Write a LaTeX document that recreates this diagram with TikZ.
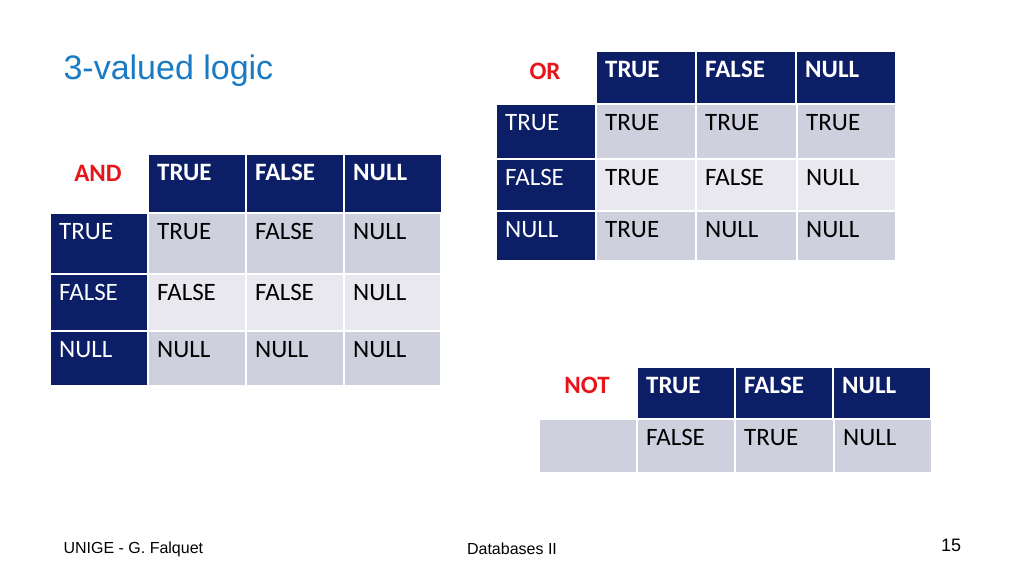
\documentclass[tikz,border=0pt]{standalone}
\usepackage{fontspec}
\setmainfont{Carlito}
\newfontfamily\arialfont{Liberation Sans}
\definecolor{navy}{HTML}{0B1E66}
\definecolor{lavA}{HTML}{CFD0DD}
\definecolor{lavB}{HTML}{E8E8EE}
\definecolor{titleblue}{HTML}{1A7BC4}
\definecolor{opred}{HTML}{E8141B}
\tikzset{
  cellbox/.style={draw=white, line width=2pt, anchor=north west, inner sep=0pt},
  celltext/.style={anchor=north west, inner sep=0pt, font=\fontsize{25}{28}\selectfont},
  headtext/.style={celltext, text=white, font=\fontsize{25}{28}\selectfont\bfseries},
  optext/.style={celltext, text=opred, font=\fontsize{25}{28}\selectfont\bfseries},
}
% one cell: name, x, y, width, height, fill, text style, text
\newcommand{\cellat}[8]{%
  \node[cellbox, fill=#6, minimum width=#4, minimum height=#5] (#1) at (#2,#3) {};
  \node[#7] (#1-t) at ([xshift=10,yshift=-11]#1.north west) {#8};}
\begin{document}
\begin{tikzpicture}[x=1pt,y=1pt]
\useasboundingbox[fill=white] (0,0) rectangle (1024,-576);
\node[anchor=west, text=titleblue, font=\arialfont\fontsize{34}{38}\selectfont] (title) at (60,-71) {3-valued logic};

% AND table
\node[optext, anchor=center] (and-op) at (98,-173) {AND};
\foreach \c/\t [count=\i] in {1/TRUE,2/FALSE,3/NULL}
  \cellat{and-h\i}{49+98*\c}{-153}{98}{59}{navy}{headtext}{\t};
\foreach \r/\y/\h/\f/\lab in {1/-212/61/lavA/TRUE,2/-273/57/lavB/FALSE,3/-330/55/lavA/NULL}
  \cellat{and-l\r}{49}{\y}{98}{\h}{navy}{headtext,font=\fontsize{25}{28}\selectfont}{\lab};
\foreach \r/\y/\h/\f/\a/\b/\cc in {1/-212/61/lavA/TRUE/FALSE/NULL,2/-273/57/lavB/FALSE/FALSE/NULL,3/-330/55/lavA/NULL/NULL/NULL}{
  \cellat{and-\r-1}{147}{\y}{98}{\h}{\f}{celltext}{\a}
  \cellat{and-\r-2}{245}{\y}{98}{\h}{\f}{celltext}{\b}
  \cellat{and-\r-3}{343}{\y}{97}{\h}{\f}{celltext}{\cc}
}

% OR table
\node[optext, anchor=center] (or-op) at (545,-71) {OR};
\foreach \c/\t [count=\i] in {1/TRUE,2/FALSE,3/NULL}
  \cellat{or-h\i}{495+100*\c}{-50}{100}{53}{navy}{headtext}{\t};
\foreach \r/\y/\h/\f/\lab in {1/-103/55/lavA/TRUE,2/-158/52/lavB/FALSE,3/-210/50/lavA/NULL}
  \cellat{or-l\r}{495}{\y}{100}{\h}{navy}{headtext,font=\fontsize{25}{28}\selectfont}{\lab};
\foreach \r/\y/\h/\f/\a/\b/\cc in {1/-103/55/lavA/TRUE/TRUE/TRUE,2/-158/52/lavB/TRUE/FALSE/NULL,3/-210/50/lavA/TRUE/NULL/NULL}{
  \cellat{or-\r-1}{595}{\y}{100}{\h}{\f}{celltext}{\a}
  \cellat{or-\r-2}{695}{\y}{101}{\h}{\f}{celltext}{\b}
  \cellat{or-\r-3}{796}{\y}{99}{\h}{\f}{celltext}{\cc}
}

% NOT table
\node[optext, anchor=center] (not-op) at (587,-385) {NOT};
\foreach \c/\t [count=\i] in {1/TRUE,2/FALSE,3/NULL}
  \cellat{not-h\i}{538+98*\c}{-366}{98}{52}{navy}{headtext}{\t};
\cellat{not-l1}{538}{-418}{98}{54}{lavA}{celltext}{}
\cellat{not-1-1}{636}{-418}{98}{54}{lavA}{celltext}{FALSE}
\cellat{not-1-2}{734}{-418}{99}{54}{lavA}{celltext}{TRUE}
\cellat{not-1-3}{833}{-418}{98}{54}{lavA}{celltext}{NULL}

% footer
\node[anchor=west, font=\arialfont\fontsize{16}{18}\selectfont] (foot-l) at (60,-549) {UNIGE - G. Falquet};
\node[font=\arialfont\fontsize{16}{18}\selectfont] (foot-m) at (512,-549) {Databases II};
\node[font=\arialfont\fontsize{18}{20}\selectfont] (foot-r) at (951,-545) {15};
\end{tikzpicture}
\end{document}
